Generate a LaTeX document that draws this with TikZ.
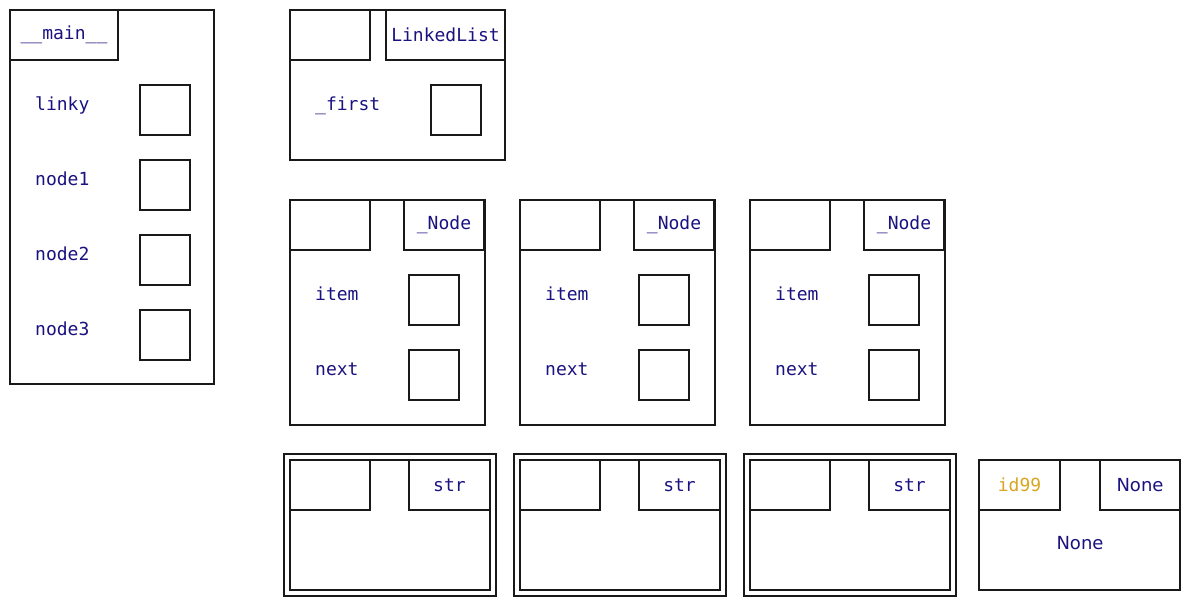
\documentclass[tikz,border=0pt]{standalone}
\usepackage{fontspec}
\setmainfont{DejaVu Sans}
\setmonofont{DejaVu Sans Mono}
\definecolor{lblc}{RGB}{26,18,128}
\definecolor{idc}{RGB}{218,165,32}
\tikzset{
  frame/.style={draw=black!90, line width=1.3pt, inner sep=0pt, outer sep=0pt, anchor=north west},
  lbl/.style={text=lblc, font=\fontsize{18}{20}\selectfont\ttfamily, inner sep=0pt, anchor=base west},
  hdr/.style={text=lblc, font=\fontsize{18}{20}\selectfont\ttfamily},
}
\newcommand{\bx}[6][]{\node[frame, minimum width=#5pt, minimum height=#6pt, #1] (#2) at (#3,#4) {};}
\begin{document}
\begin{tikzpicture}[x=1pt, y=-1pt]
\useasboundingbox (0,0) rectangle (1200,600);

% __main__ frame
\bx{mainF}{10}{10}{204}{374}
\node[frame, hdr, minimum width=108pt, minimum height=50pt] (mainH) at (10,10) {\_\_main\_\_};
\node[lbl] (lLinky) at (35,110) {linky};
\node[lbl] (lN1) at (35,185) {node1};
\node[lbl] (lN2) at (35,260) {node2};
\node[lbl] (lN3) at (35,335) {node3};
\bx{bLinky}{140}{85}{50}{50}
\bx{bN1}{140}{160}{50}{50}
\bx{bN2}{140}{235}{50}{50}
\bx{bN3}{140}{310}{50}{50}

% LinkedList frame
\bx{llF}{290}{10}{215}{150}
\bx{llHL}{290}{10}{80}{50}
\node[frame, hdr, minimum width=119pt, minimum height=50pt] (llHR) at (386,10) {LinkedList};
\node[lbl] (lFirst) at (315,110) {\_first};
\bx{bFirst}{431}{85}{50}{50}

% _Node frames
\foreach \i/\dx in {1/0,2/230,3/460} {
  \bx{nF\i}{290+\dx}{200}{195}{225}
  \bx{nHL\i}{290+\dx}{200}{80}{50}
  \node[frame, hdr, minimum width=80pt, minimum height=50pt] (nHR\i) at (404+\dx,200) {\_Node};
  \node[lbl] (lItem\i) at (315+\dx,300) {item};
  \node[lbl] (lNext\i) at (315+\dx,375) {next};
  \bx{bItem\i}{409+\dx}{275}{50}{50}
  \bx{bNext\i}{409+\dx}{350}{50}{50}
}

% str frames
\foreach \i/\dx in {1/0,2/230,3/460} {
  \bx{sO\i}{284+\dx}{454}{212}{142}
  \bx{sF\i}{290+\dx}{460}{200}{130}
  \bx{sHL\i}{290+\dx}{460}{80}{50}
  \node[frame, hdr, minimum width=81pt, minimum height=50pt] (sHR\i) at (409+\dx,460) {str};
}

% None frame
\bx{noF}{979}{460}{201}{130}
\node[frame, hdr, text=idc, minimum width=81pt, minimum height=50pt] (noHL) at (979,460) {id99};
\node[frame, hdr, font=\fontsize{18}{20}\selectfont\rmfamily, minimum width=80pt, minimum height=50pt] (noHR) at (1100,460) {None};
\node[text=lblc, font=\fontsize{18}{20}\selectfont\rmfamily, inner sep=0pt] (noV) at (1080,543) {None};
\end{tikzpicture}
\end{document}
